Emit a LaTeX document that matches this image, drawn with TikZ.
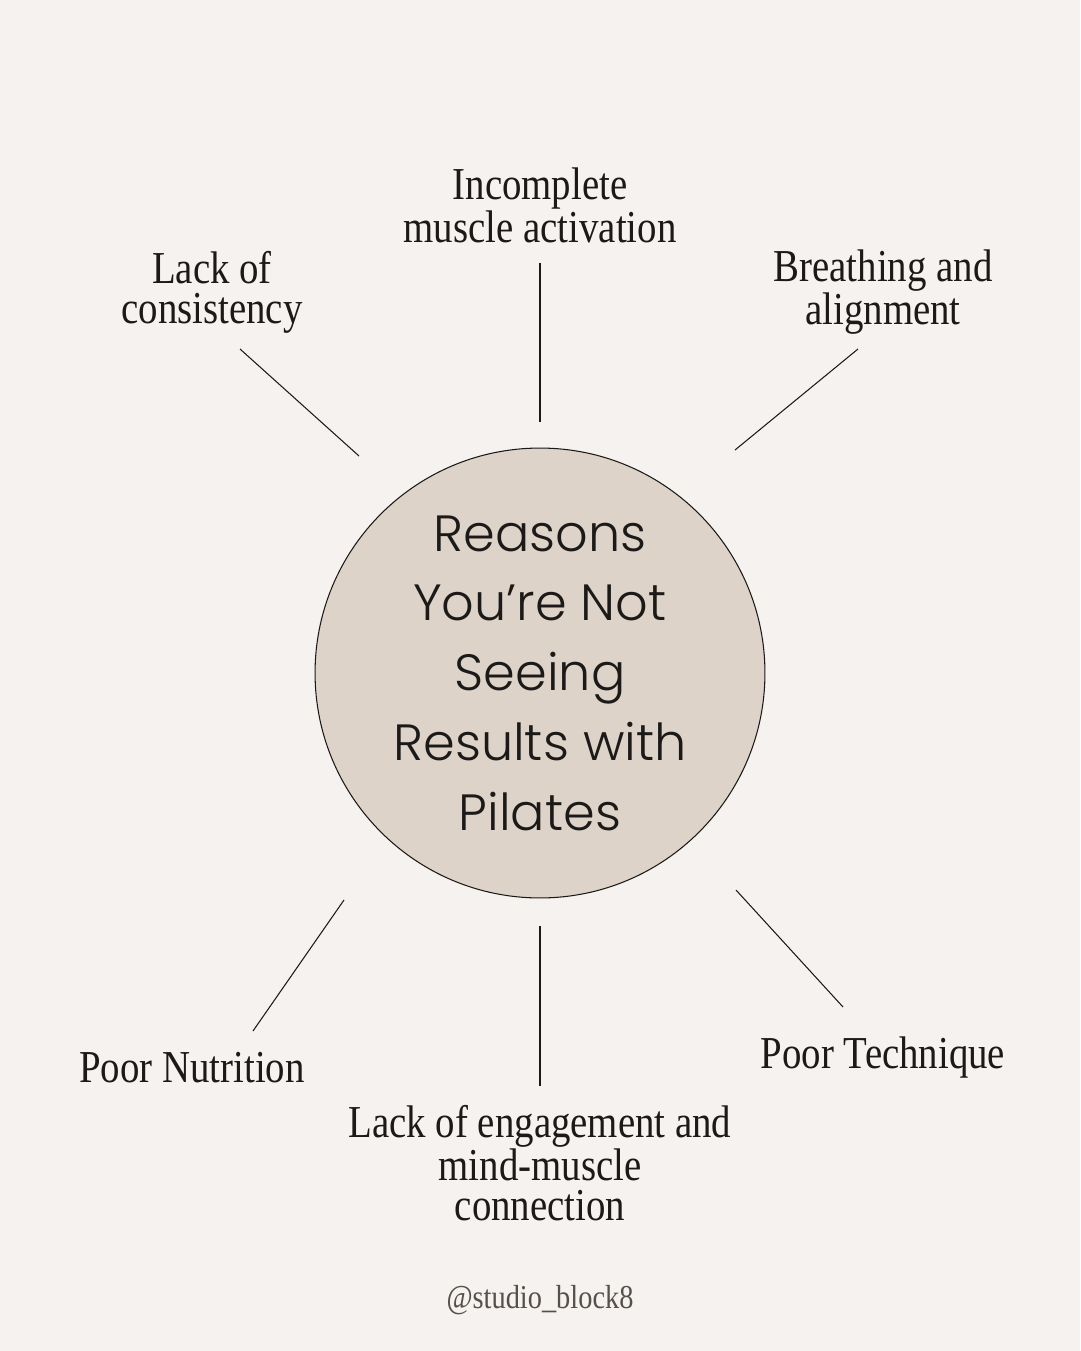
\documentclass[tikz,border=0pt]{standalone}
\usepackage{fontspec}
\setmainfont{Liberation Serif}
\newfontfamily\labelfont[FakeStretch=0.85]{Liberation Serif}
\newfontfamily\hubfont{Poppins}[UprightFont=* Light]
\usetikzlibrary{positioning}
\definecolor{paper}{HTML}{F5F2EF}
\definecolor{hubfill}{HTML}{DDD3C8}
\definecolor{ink}{HTML}{1C1A18}
\definecolor{tag}{HTML}{55504B}

\begin{document}
\begin{tikzpicture}[x=0.02cm, y=-0.02cm,
  hub/.style={circle, draw=ink, line width=0.6pt, fill=hubfill, minimum size=9cm, inner sep=0pt, align=center, text=ink, font=\hubfont\fontsize{29}{39.7}\selectfont},
  reason/.style={align=center, text=ink, inner sep=0pt, font=\labelfont\fontsize{26}{22.7}\selectfont},
  spoke/.style={draw=ink, line width=0.6pt}]

	\fill[paper] (0,0) rectangle (1080,1351);
	\useasboundingbox (0,0) rectangle (1080,1351);

	\node[hub] (hub) at (540,673) {Reasons\\You’re Not\\Seeing\\Results with\\Pilates};

	% reasons round the hub
	\node[reason] (activation) at (540,205) {Incomplete\\muscle activation};
	\node[reason] (consistency) at (212,292) {Lack of\\consistency};
	\node[reason] (breathing) at (883,292) {Breathing and\\alignment};
	\node[reason] (nutrition) at (192,1068) {Poor Nutrition};
	\node[reason] (engagement) at (540,1163) {Lack of engagement and\\mind-muscle\\connection};
	\node[reason] (technique) at (883,1058) {Poor Technique};

	\node[reason, text=tag, font=\labelfont\fontsize{19}{19}\selectfont] (handle) at (540,1300) {@studio\_block8};

	% spoke ends
	\coordinate (a1) at (540,263);  \coordinate (a2) at (540,422);
	\coordinate (c1) at (240,349);  \coordinate (c2) at (359,456);
	\coordinate (b1) at (858,349);  \coordinate (b2) at (735,450);
	\coordinate (n1) at (344,900);  \coordinate (n2) at (253,1031);
	\coordinate (e1) at (540,926);  \coordinate (e2) at (540,1086);
	\coordinate (t1) at (736,890);  \coordinate (t2) at (843,1007);

	\path[spoke]
	(a1) edge (a2)
	(c1) edge (c2)
	(b1) edge (b2)
	(n1) edge (n2)
	(e1) edge (e2)
	(t1) edge (t2);

\end{tikzpicture}
\end{document}
